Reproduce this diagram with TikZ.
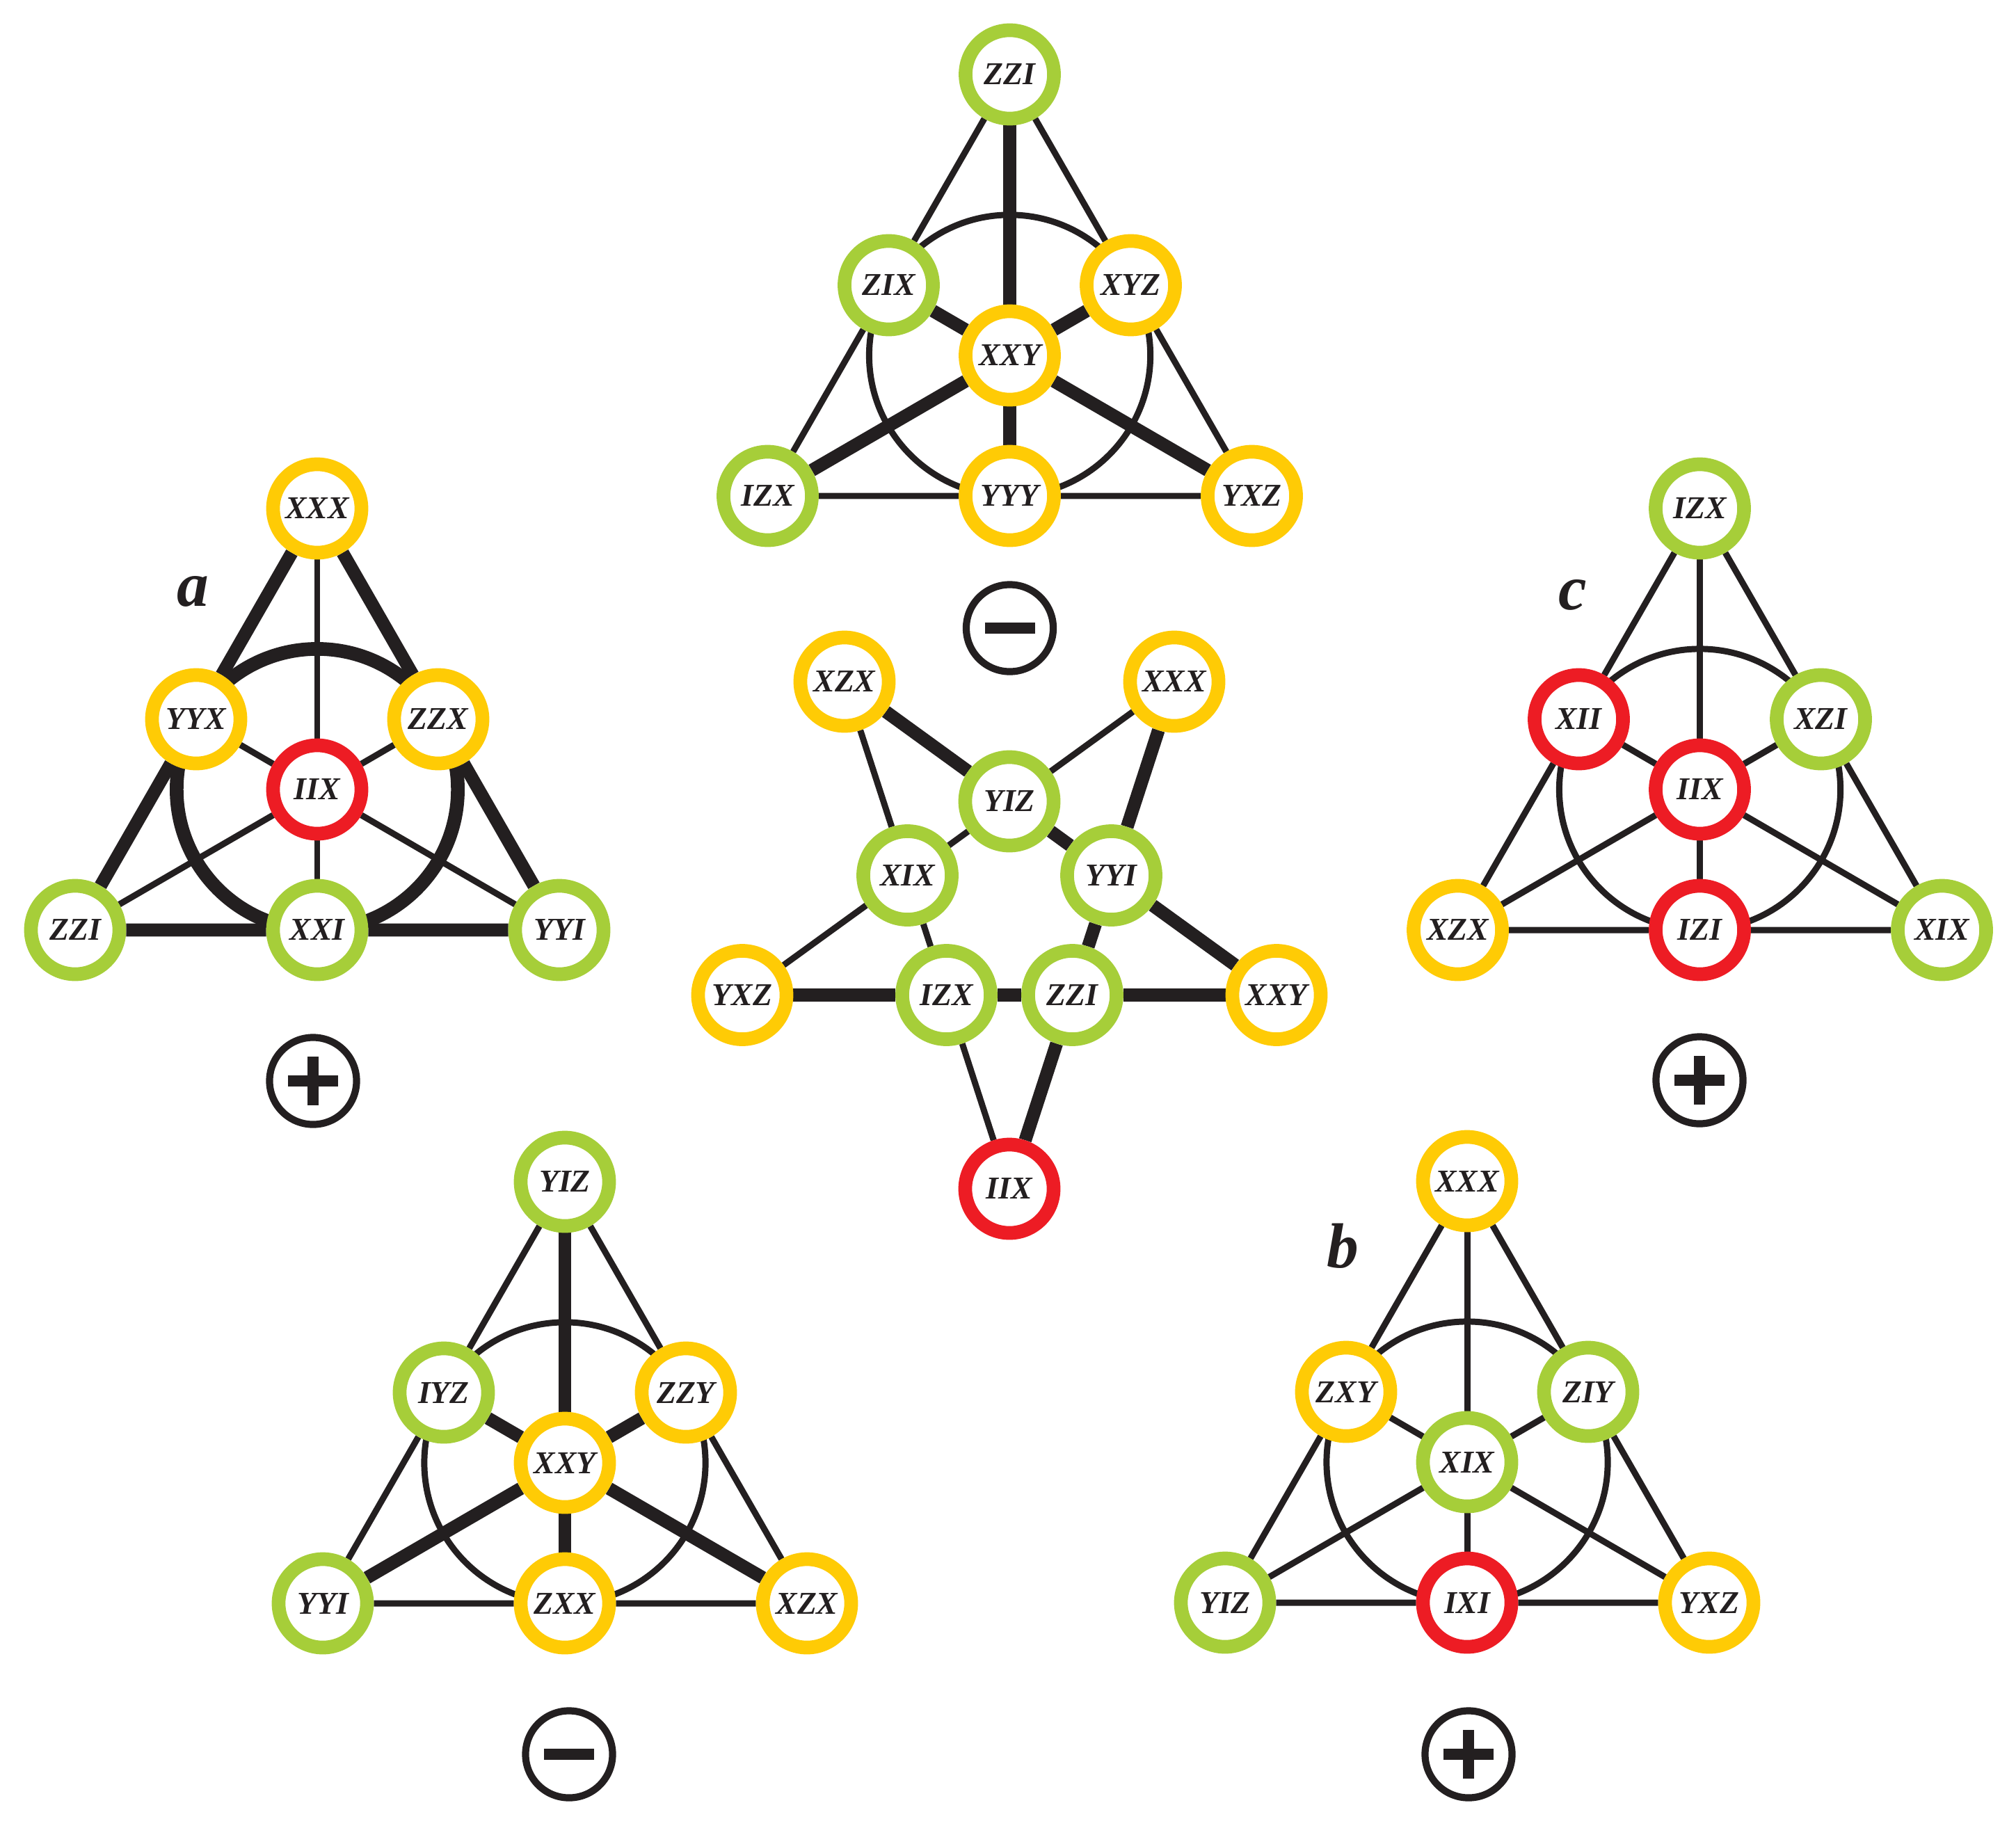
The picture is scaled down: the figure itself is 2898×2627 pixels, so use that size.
\documentclass[tikz,border=0pt]{standalone}
\usepackage{fontspec}
\setmainfont{Liberation Serif}
\definecolor{cg}{RGB}{166,206,57}
\definecolor{cy}{RGB}{255,203,5}
\definecolor{cr}{RGB}{237,28,36}
\definecolor{ck}{RGB}{35,31,32}
\pgfdeclarelayer{bg}
\pgfsetlayers{bg,main}
\begin{document}
\begin{tikzpicture}[x=0.01cm,y=-0.01cm,
 nd/.style={circle, draw, line width=5.6pt, fill=white, inner sep=0pt,
   minimum size=1.27cm,
   font=\fontsize{13pt}{13pt}\selectfont\bfseries\itshape, text=ck},
 ng/.style={nd, draw=cg}, ny/.style={nd, draw=cy}, nr/.style={nd, draw=cr},
 thk/.style={draw=ck, line width=5.3pt},
 thn/.style={draw=ck, line width=2.55pt},
 sgn/.style={circle, draw=ck, line width=2.9pt, minimum size=1.25cm, inner sep=0pt},
 bar/.style={draw=ck, line width=4.3pt},
 lab/.style={font=\fontsize{26pt}{26pt}\selectfont\bfseries\itshape, text=ck}]
\useasboundingbox (0,0) rectangle (2898,2627);

% ---------- triangle a ----------
\node[ny] (at)  at (456,731)   {XXX};
\node[ny] (aml) at (282,1034)  {YYX};
\node[ny] (amr) at (630,1034)  {ZZX};
\node[nr] (ac)  at (456,1135)  {IIX};
\node[ng] (abl) at (108,1337)  {ZZI};
\node[ng] (amb) at (456,1337)  {XXI};
\node[ng] (abr) at (804,1337)  {YYI};
\node[lab] (la) at (277,850) {a};
\node[sgn] (sa) at (450,1554) {};

% ---------- top triangle ----------
\node[ng] (tt)  at (1451.5,107)  {ZZI};
\node[ng] (tml) at (1277.5,410)  {ZIX};
\node[ny] (tmr) at (1625.5,410)  {XYZ};
\node[ny] (tc)  at (1451.5,511)  {XXY};
\node[ng] (tbl) at (1103.5,713)  {IZX};
\node[ny] (tmb) at (1451.5,713)  {YYY};
\node[ny] (tbr) at (1799.5,713)  {YXZ};
\node[sgn] (st) at (1451.5,903) {};

% ---------- triangle c ----------
\node[ng] (ct)  at (2443.5,731)  {IZX};
\node[nr] (cml) at (2269.5,1034) {XII};
\node[ng] (cmr) at (2617.5,1034) {XZI};
\node[nr] (cc)  at (2443.5,1135) {IIX};
\node[ny] (cbl) at (2095.5,1337) {XZX};
\node[nr] (cmb) at (2443.5,1337) {IZI};
\node[ng] (cbr) at (2791.5,1337) {XIX};
\node[lab] (lc) at (2261,855) {c};
\node[sgn] (sc) at (2443,1553) {};

% ---------- bottom-left triangle ----------
\node[ng] (lt)  at (812,1699)  {YIZ};
\node[ng] (lml) at (638,2002)  {IYZ};
\node[ny] (lmr) at (986,2002)  {ZZY};
\node[ny] (lc)  at (812,2103)  {XXY};
\node[ng] (lbl) at (464,2305)  {YYI};
\node[ny] (lmb) at (812,2305)  {ZXX};
\node[ny] (lbr) at (1160,2305) {XZX};
\node[sgn] (sl) at (818,2522) {};

% ---------- bottom-right triangle ----------
\node[ny] (rt)  at (2109,1698)  {XXX};
\node[ny] (rml) at (1935,2001)  {ZXY};
\node[ng] (rmr) at (2283,2001)  {ZIY};
\node[ng] (rc)  at (2109,2102)  {XIX};
\node[ng] (rbl) at (1761,2304)  {YIZ};
\node[nr] (rmb) at (2109,2304)  {IXI};
\node[ny] (rbr) at (2457,2304)  {YXZ};
\node[lab] (lb) at (1930,1791) {b};
\node[sgn] (sr) at (2111,2522) {};

% ---------- pentagram ----------
\node[ny] (pxzx) at (1214,980)      {XZX};
\node[ny] (pxxx) at (1688,980)      {XXX};
\node[ng] (pyiz) at (1451,1152)     {YIZ};
\node[ng] (pxix) at (1304.5,1258.5) {XIX};
\node[ng] (pyyi) at (1597.5,1258.5) {YYI};
\node[ny] (pyxz) at (1067,1430.5)   {YXZ};
\node[ng] (pizx) at (1360.5,1430.5) {IZX};
\node[ng] (pzzi) at (1541.5,1430.5) {ZZI};
\node[ny] (pxxy) at (1835,1430.5)   {XXY};
\node[nr] (piix) at (1451,1709)     {IIX};

% ---------- plus / minus bars ----------
\foreach \s in {sa,sc,sr}{
  \draw[bar] ([xshift=-0.36cm]\s.center) -- ([xshift=0.36cm]\s.center);
  \draw[bar] ([yshift=-0.35cm]\s.center) -- ([yshift=0.35cm]\s.center);
}
\foreach \s in {st,sl}{
  \draw[bar] ([xshift=-0.36cm]\s.center) -- ([xshift=0.36cm]\s.center);
}

\begin{pgfonlayer}{bg}
% triangle a: thick sides and circle, thin medians
\draw[thk] (at) -- (aml) -- (abl) -- (amb) -- (abr) -- (amr) -- (at);
\draw[thk, line width=5.6pt] (ac.center) circle [radius=2.02cm];
\draw[thn] (at) -- (ac) -- (amb);
\draw[thn] (aml) -- (ac) -- (abr);
\draw[thn] (amr) -- (ac) -- (abl);

% top triangle: thin sides and circle, thick medians
\draw[thn] (tt) -- (tml) -- (tbl) -- (tmb) -- (tbr) -- (tmr) -- (tt);
\draw[thn] (tc.center) circle [radius=2.02cm];
\draw[thk] (tt) -- (tc) -- (tmb);
\draw[thk] (tml) -- (tc) -- (tbr);
\draw[thk] (tmr) -- (tc) -- (tbl);

% triangle c: all thin
\draw[thn] (ct) -- (cml) -- (cbl) -- (cmb) -- (cbr) -- (cmr) -- (ct);
\draw[thn] (cc.center) circle [radius=2.02cm];
\draw[thn] (ct) -- (cc) -- (cmb);
\draw[thn] (cml) -- (cc) -- (cbr);
\draw[thn] (cmr) -- (cc) -- (cbl);

% bottom-left: thin sides and circle, thick medians
\draw[thn] (lt) -- (lml) -- (lbl) -- (lmb) -- (lbr) -- (lmr) -- (lt);
\draw[thn] (lc.center) circle [radius=2.02cm];
\draw[thk] (lt) -- (lc) -- (lmb);
\draw[thk] (lml) -- (lc) -- (lbr);
\draw[thk] (lmr) -- (lc) -- (lbl);

% bottom-right: all thin
\draw[thn] (rt) -- (rml) -- (rbl) -- (rmb) -- (rbr) -- (rmr) -- (rt);
\draw[thn] (rc.center) circle [radius=2.02cm];
\draw[thn] (rt) -- (rc) -- (rmb);
\draw[thn] (rml) -- (rc) -- (rbr);
\draw[thn] (rmr) -- (rc) -- (rbl);

% pentagram
\draw[thk] (pxzx) -- (pyiz) -- (pyyi) -- (pxxy);
\draw[thk] (pxxx) -- (pyyi) -- (pzzi) -- (piix);
\draw[thk] (pyxz) -- (pizx) -- (pzzi) -- (pxxy);
\draw[thn] (pxxx) -- (pyiz) -- (pxix) -- (pyxz);
\draw[thn] (pxzx) -- (pxix) -- (pizx) -- (piix);
\end{pgfonlayer}
\end{tikzpicture}
\end{document}
